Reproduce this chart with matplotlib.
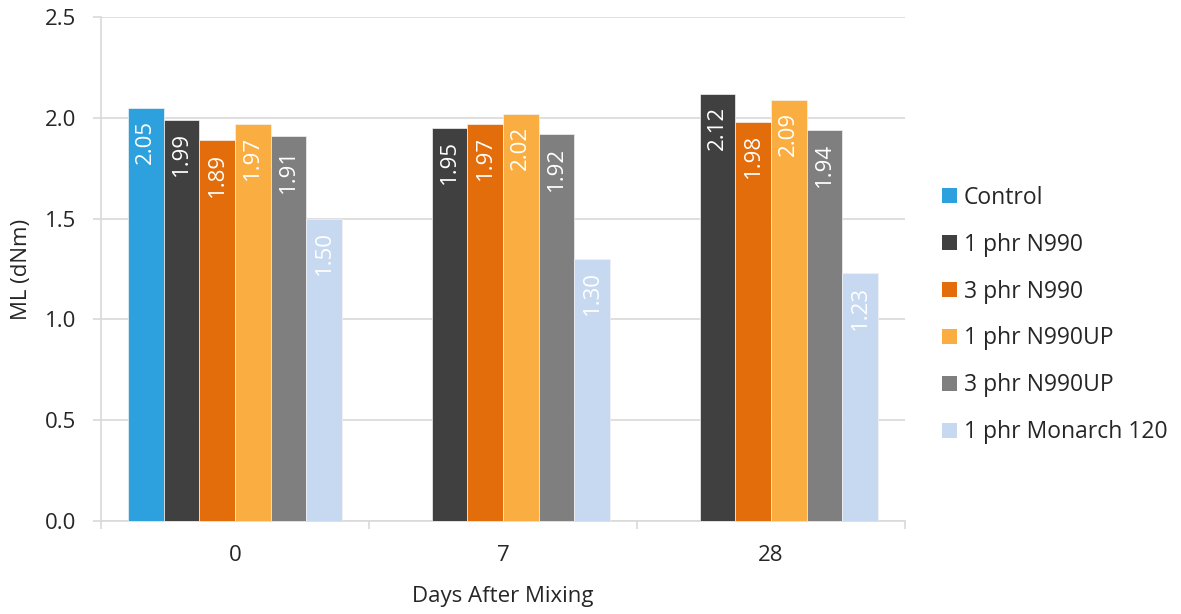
import numpy as np
import matplotlib
matplotlib.use("Agg")
import matplotlib.pyplot as plt
from matplotlib.patches import Patch

# ML values by mixing age (dNm); Control only measured at day 0
days = ["0", "7", "28"]
series = ["Control", "1 phr N990", "3 phr N990", "1 phr N990UP",
          "3 phr N990UP", "1 phr Monarch 120"]
control = [2.05, np.nan, np.nan]
n990_1 = [1.99, 1.95, 2.12]
n990_3 = [1.89, 1.97, 1.98]
n990up_1 = [1.97, 2.02, 2.09]
n990up_3 = [1.91, 1.92, 1.94]
monarch_1 = [1.50, 1.30, 1.23]
values = [control, n990_1, n990_3, n990up_1, n990up_3, monarch_1]
colors = ["#2CA1DD", "#404040", "#E36C0B", "#FAAE42", "#7F7F7F", "#C7D9F0"]

plt.rcParams["font.family"] = ["Open Sans", "DejaVu Sans"]
GRID = "#D9D9D9"
TXT = "#262626"
FS = 16

fig = plt.figure(figsize=(11.81, 6.14), dpi=100)
ax = fig.add_axes([101/1181, 93/614, 804/1181, 504/614])

x = np.arange(len(days))
n = len(series)
w = 0.8 / n
for i, (vals, c) in enumerate(zip(values, colors)):
    pos = x - 0.4 + w * (i + 0.5)
    ax.bar(pos, vals, width=w, color=c, edgecolor="#F2F2F2", linewidth=0.5, zorder=3)
    for p, v in zip(pos, vals):
        if np.isnan(v):
            continue
        ax.annotate(f"{v:.2f}", (p, v), xytext=(0, -9), textcoords="offset points",
                    rotation=90, ha="center", va="top", color="white",
                    fontsize=16, zorder=4)

ax.set_xlim(-0.5, len(days) - 0.5)
ax.set_ylim(0, 2.5)
ax.set_yticks(np.arange(0, 2.51, 0.5))
ax.set_yticklabels([f"{t:.1f}" for t in np.arange(0, 2.51, 0.5)])
ax.set_xticks(x)
ax.set_xticklabels(days)
ax.set_xticks(np.arange(-0.5, len(days)), minor=True)

ax.grid(axis="y", color=GRID, linewidth=1.2, zorder=0)
for s in ["top", "right"]:
    ax.spines[s].set_visible(False)
for s in ["left", "bottom"]:
    ax.spines[s].set_color(GRID)
    ax.spines[s].set_linewidth(1.2)

ax.tick_params(axis="y", length=6, color=GRID, width=1.2, labelsize=FS, labelcolor=TXT, pad=12)
ax.tick_params(axis="x", which="major", length=0, labelsize=FS, labelcolor=TXT, pad=17)
ax.tick_params(axis="x", which="minor", length=6, color=GRID, width=1.2)

ax.set_ylabel("ML (dNm)", fontsize=FS, color=TXT)
ax.yaxis.set_label_coords(-0.086, 0.5)
ax.set_xlabel("Days After Mixing", fontsize=FS, color=TXT)
ax.xaxis.set_label_coords(0.5, -0.129)

handles = [Patch(facecolor=c, edgecolor="none") for c in colors]
fig.legend(handles, series, loc="center left", bbox_to_anchor=(942/1181, 1 - 315/614),
           frameon=False, fontsize=16.5, handlelength=0.65, handleheight=0.65,
           handletextpad=0.3, labelspacing=1.0, borderpad=0, borderaxespad=0,
           labelcolor=TXT)

fig.savefig("out.png", dpi=100)
